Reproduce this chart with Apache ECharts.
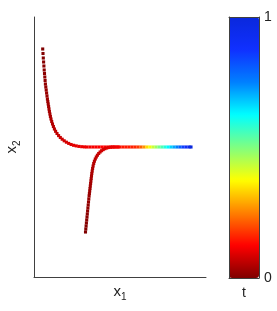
<!DOCTYPE html>
<html><head><meta charset="utf-8">
<script src="https://cdn.jsdelivr.net/npm/echarts@6/dist/echarts.min.js"></script>
<style>html,body{margin:0;padding:0;background:#fff}#c{width:277px;height:311px}</style>
</head><body><div id="c"></div>
<script>
// Trajectory 1 (starts top-left, moves down, then right along x2 = 0)
const traj1X1 = [0.087,0.090,0.093,0.096,0.099,0.102,0.105,0.108,0.111,0.114,0.118,0.122,0.126,0.130,0.134,
  0.138,0.142,0.146,0.150,0.154,0.159,0.164,0.170,0.177,0.185,0.194,0.204,0.216,0.230,0.246,0.263,0.282,0.302,0.324,0.347,0.371,0.396,0.422,0.449,0.477,0.505,
  0.53,0.56,0.59,0.62,0.65,0.68,0.71,0.74,0.77,0.80,0.83,0.86,0.89,0.92,0.95,0.98,1.01,1.04,1.07,1.10,1.13,1.16,1.19,1.22,1.25,1.28,1.31,1.34,1.37,1.40,1.43,1.46,1.49,1.52,1.55,1.57];
const traj1X2 = [0.98,0.935,0.89,0.85,0.81,0.77,0.735,0.70,0.665,0.63,0.60,0.57,0.54,0.51,0.48,
  0.455,0.43,0.405,0.38,0.355,0.33,0.305,0.28,0.255,0.23,0.205,0.18,0.157,0.135,0.114,0.095,0.078,0.062,0.048,0.036,0.025,0.017,0.011,0.006,0.003,0.001,
  0,0,0,0,0,0,0,0,0,0,0,0,0,0,0,0,0,0,0,0,0,0,0,0,0,0,0,0,0,0,0,0,0,0,0,0];
const traj1T = [0.000,0.002,0.004,0.006,0.008,0.010,0.012,0.014,0.016,0.018,0.020,0.022,0.024,0.026,0.028,
  0.030,0.032,0.034,0.036,0.038,0.040,0.042,0.044,0.047,0.050,0.053,0.056,0.060,0.064,0.068,0.072,0.076,0.080,0.084,0.088,0.092,0.096,0.099,0.102,0.104,0.107,
  0.110,0.113,0.116,0.119,0.122,0.125,0.128,0.131,0.134,0.137,0.140,0.143,0.146,0.149,0.152,0.156,0.162,0.180,0.220,0.270,0.340,0.390,0.430,0.470,0.510,0.550,0.590,0.630,0.670,0.710,0.750,0.800,0.850,0.900,0.950,1.000];

// Trajectory 2 (starts bottom, moves up and merges into x2 = 0)
const traj2X1 = [0.515,0.518,0.521,0.524,0.527,0.530,0.533,0.536,0.539,0.542,0.545,0.548,0.551,0.554,0.557,0.560,0.563,0.566,0.569,0.572,0.575,0.578,0.582,0.586,0.591,0.597,0.604,0.613,0.623,0.634,0.647,0.661,0.676,0.692,0.709,0.727,0.746,0.766,0.787,0.81,0.84];
const traj2X2 = [-0.85,-0.82,-0.79,-0.76,-0.73,-0.70,-0.67,-0.64,-0.61,-0.58,-0.55,-0.52,-0.49,-0.465,-0.44,-0.415,-0.39,-0.365,-0.34,-0.315,-0.29,-0.265,-0.24,-0.215,-0.19,-0.165,-0.142,-0.12,-0.10,-0.082,-0.065,-0.05,-0.037,-0.026,-0.017,-0.010,-0.005,-0.002,0,0,0];
const traj2T = [0.000,0.002,0.004,0.006,0.008,0.010,0.012,0.014,0.016,0.018,0.020,0.022,0.024,0.026,0.028,0.030,0.032,0.034,0.036,0.038,0.040,0.042,0.044,0.046,0.049,0.052,0.055,0.058,0.062,0.066,0.070,0.074,0.078,0.082,0.086,0.090,0.094,0.098,0.102,0.106,0.110];

const colorbarTicks = [0, 1];

const zip = (a, b, c) => a.map((v, i) => [v, b[i], c[i]]);
const font = 'Liberation Sans, Arial, sans-serif';
const chart = echarts.init(document.getElementById('c'), null, {renderer: 'canvas'});
const borderLine = {show: true, onZero: false, lineStyle: {color: '#404040', width: 1}};
chart.setOption({
  animation: false,
  backgroundColor: '#fff',
  grid: [
    {left: 34, top: 17, width: 172, height: 260, containLabel: false, outerBoundsMode: 'none'},
    {left: 229, top: 17, width: 30, height: 261, containLabel: false, outerBoundsMode: 'none'}
  ],
  xAxis: [
    {gridIndex: 0, type: 'value', min: 0, max: 1.72, axisLine: borderLine, axisTick: {show: false}, axisLabel: {show: false}, splitLine: {show: false},
     name: '{a|x}{b|1}', nameLocation: 'middle', nameGap: 5,
     nameTextStyle: {rich: {a: {fontSize: 15, fontFamily: font, color: '#222'}, b: {fontSize: 10, fontFamily: font, color: '#222', padding: [10, 0, 0, 0]}}}},
    {gridIndex: 1, type: 'value', min: 0, max: 1, position: 'bottom', z: 10, axisLine: borderLine, axisTick: {show: false}, axisLabel: {show: false}, splitLine: {show: false},
     name: 't', nameLocation: 'middle', nameGap: 8, nameTextStyle: {fontSize: 14, fontFamily: font, color: '#222'}},
    {gridIndex: 1, type: 'value', min: 0, max: 1, position: 'top', z: 10, axisLine: borderLine, axisTick: {show: false}, axisLabel: {show: false}, splitLine: {show: false}}
  ],
  yAxis: [
    {gridIndex: 0, type: 'value', min: -1.3, max: 1.3, axisLine: borderLine, axisTick: {show: false}, axisLabel: {show: false}, splitLine: {show: false},
     name: '{a|x}{b|2}', nameLocation: 'middle', nameGap: 12,
     nameTextStyle: {rich: {a: {fontSize: 15, fontFamily: font, color: '#222'}, b: {fontSize: 10, fontFamily: font, color: '#222', padding: [10, 0, 0, 0]}}}},
    {gridIndex: 1, type: 'value', min: 0, max: 1, interval: 1, position: 'right', z: 10, axisLine: borderLine, axisTick: {show: false},
     axisLabel: {show: true, margin: 5, fontSize: 14, fontFamily: font, color: '#222', formatter: v => colorbarTicks.includes(v) ? String(v) : ''}, splitLine: {show: false}},
    {gridIndex: 1, type: 'value', min: 0, max: 1, position: 'left', z: 10, axisLine: borderLine, axisTick: {show: false}, axisLabel: {show: false}, splitLine: {show: false}}
  ],
  visualMap: {
    type: 'continuous', min: 0, max: 1, dimension: 2, seriesIndex: [0, 1],
    orient: 'vertical', left: 229, top: 17, itemWidth: 30, itemHeight: 261, padding: 0,
    calculable: false, hoverLink: false, text: null, z: 1,
    inRange: {color: ['#800000', '#ff0000', '#ff8000', '#ffff00', '#80ff80', '#00ffff', '#0080ff', '#1030ff', '#0a28dc']}
  },
  series: [
    {type: 'scatter', xAxisIndex: 0, yAxisIndex: 0, symbol: 'rect', symbolSize: 3.1, silent: true, itemStyle: {opacity: 1}, data: zip(traj1X1, traj1X2, traj1T)},
    {type: 'scatter', xAxisIndex: 0, yAxisIndex: 0, symbol: 'rect', symbolSize: 3.1, silent: true, itemStyle: {opacity: 1}, data: zip(traj2X1, traj2X2, traj2T)}
  ]
});
</script></body></html>
